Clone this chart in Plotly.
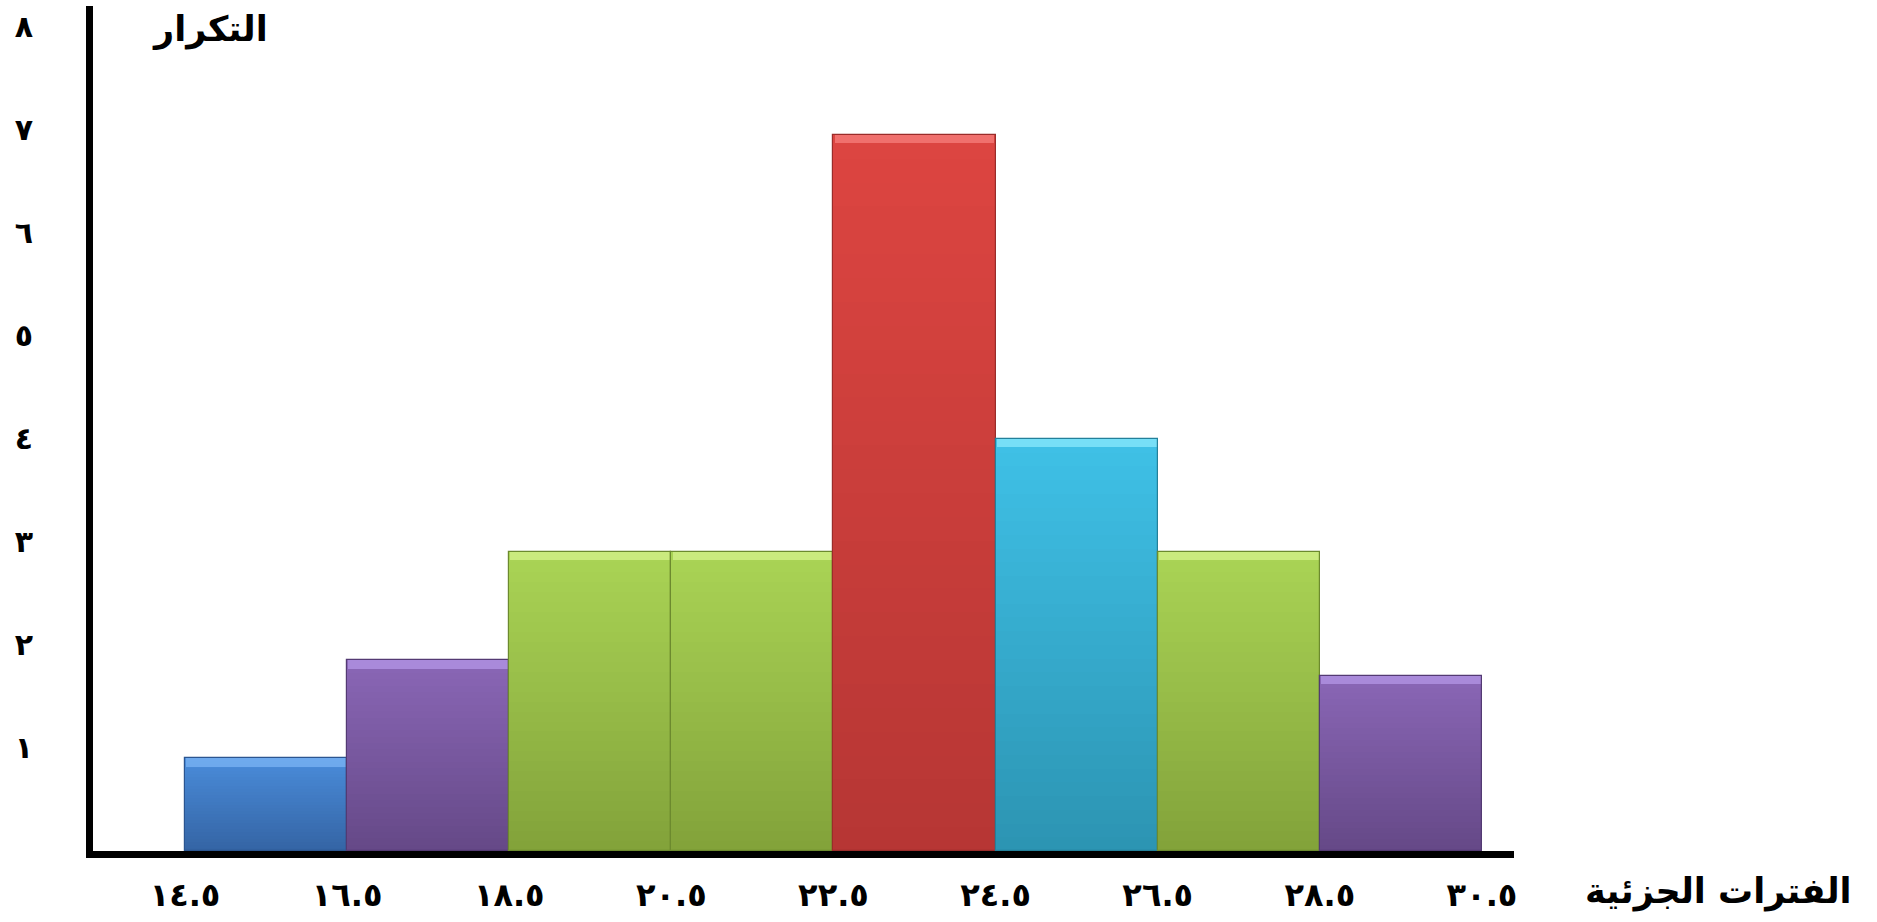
import plotly.graph_objects as go

# ---- data ----
edges = [14.5, 16.5, 18.5, 20.5, 22.5, 24.5, 26.5, 28.5, 30.5]
edge_labels = ["١٤.٥", "١٦.٥", "١٨.٥", "٢٠.٥", "٢٢.٥", "٢٤.٥", "٢٦.٥", "٢٨.٥", "٣٠.٥"]
freq = [0.9, 1.85, 2.9, 2.9, 6.95, 4.0, 2.9, 1.7]
y_ticks = [1, 2, 3, 4, 5, 6, 7, 8]
y_labels = ["١", "٢", "٣", "٤", "٥", "٦", "٧", "٨"]
x_title = "الفترات الجزئية"
y_title = "التكرار"

# ---- styles ----
top_cols = ["#4A8CDA", "#8A67B6", "#AAD455", "#AAD455", "#DD4541", "#3FC1E7", "#AAD455", "#8A67B6"]
bot_cols = ["#3464A4", "#654887", "#82A23A", "#82A23A", "#B63634", "#2C94B2", "#82A23A", "#654887"]
hi_cols = ["#78B2F2", "#B293E3", "#D2F088", "#D2F088", "#F57A78", "#86E6FB", "#D2F088", "#B293E3"]
edge_cols = ["#2B5590", "#533A73", "#6C8A2E", "#6C8A2E", "#9A2C2A", "#23809A", "#6C8A2E", "#533A73"]


def hex2rgb(h):
    h = h.lstrip("#")
    return tuple(int(h[i:i + 2], 16) for i in (0, 2, 4))


def mix(c1, c2, t):
    a, b = hex2rgb(c1), hex2rgb(c2)
    return "rgb(%d,%d,%d)" % tuple(round(a[i] + (b[i] - a[i]) * t) for i in range(3))


centers = [(edges[i] + edges[i + 1]) / 2 for i in range(len(freq))]
widths = [edges[i + 1] - edges[i] for i in range(len(freq))]

fig = go.Figure()

N = 30
for k in range(N):
    t = (k + 0.5) / N
    fig.add_trace(go.Bar(
        x=centers, y=[v / N for v in freq], base=[v * k / N for v in freq],
        width=widths,
        marker=dict(color=[mix(bot_cols[i], top_cols[i], t) for i in range(len(freq))],
                    line=dict(width=0)),
        hoverinfo="skip", showlegend=False))

# top bevel highlight
fig.add_trace(go.Bar(
    x=centers, y=[0.08 for v in freq], base=[v - 0.08 for v in freq],
    width=[w * 0.985 for w in widths],
    marker=dict(color=hi_cols, line=dict(width=0), opacity=0.8),
    hoverinfo="skip", showlegend=False))

# outline
fig.add_trace(go.Bar(
    x=centers, y=freq, width=widths,
    marker=dict(color="rgba(0,0,0,0)", line=dict(width=1.2, color=edge_cols)),
    hoverinfo="skip", showlegend=False))

fig.update_layout(
    width=1877, height=922,
    margin=dict(l=93, r=363, t=6, b=71),
    paper_bgcolor="white", plot_bgcolor="white",
    barmode="overlay", bargap=0,
    font=dict(family="DejaVu Sans, Arial, sans-serif", color="black"),
    xaxis=dict(
        range=[13.365, 30.895], showgrid=False, zeroline=False,
        showline=True, linewidth=7, linecolor="black",
        tickvals=edges, ticktext=edge_labels, ticks="",
        tickfont=dict(size=32, weight="bold", color="black"),
        ticklabelstandoff=10,
    ),
    yaxis=dict(
        range=[0, 8.2], showgrid=False, zeroline=False,
        showline=True, linewidth=7, linecolor="black",
        tickvals=y_ticks, ticktext=y_labels, ticks="",
        tickfont=dict(size=30, weight="bold", color="black"),
        ticklabelstandoff=47,
    ),
    annotations=[
        dict(text=y_title, xref="paper", yref="paper", x=0.082, y=0.9716,
             xanchor="center", yanchor="middle", showarrow=False,
             font=dict(size=35, weight="bold", color="black")),
        dict(text=x_title, xref="paper", yref="paper", x=1.1436, y=-0.0485,
             xanchor="center", yanchor="middle", showarrow=False,
             font=dict(size=35, weight="bold", color="black")),
    ],
)

fig.write_html("out.html")
